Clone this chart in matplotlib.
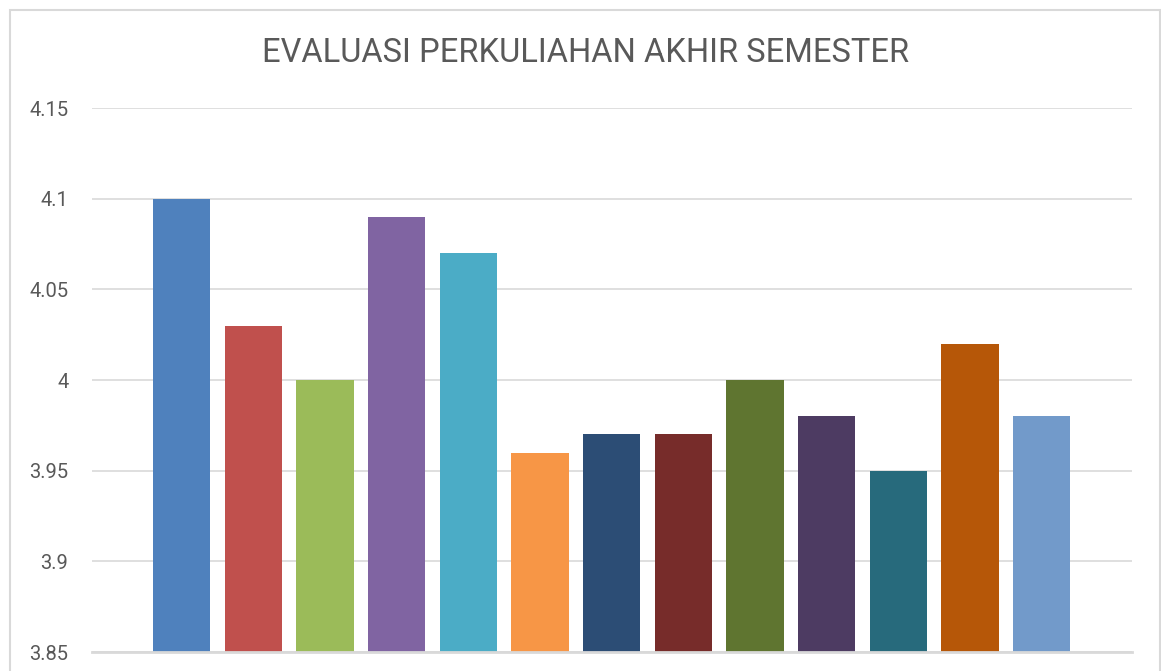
import matplotlib
matplotlib.use("Agg")
import matplotlib.pyplot as plt
from matplotlib.patches import Rectangle

title = "EVALUASI PERKULIAHAN AKHIR SEMESTER"
categories = [str(i) for i in range(1, 14)]
values = [4.10, 4.03, 4.00, 4.09, 4.07, 3.96, 3.97, 3.97, 4.00, 3.98, 3.95, 4.02, 3.98]
colors = ["#4F81BD", "#C0504D", "#9BBB59", "#8064A2", "#4BACC6", "#F79646",
          "#2C4D75", "#772C2A", "#5F7530", "#4D3B62", "#276A7C", "#B65708", "#729ACA"]
yticks = [3.85, 3.9, 3.95, 4.0, 4.05, 4.1, 4.15]
ytick_labels = ["3.85", "3.9", "3.95", "4", "4.05", "4.1", "4.15"]

FONT = "Roboto"

W, H = 1161, 671
fig = plt.figure(figsize=(W / 100, H / 100), dpi=100)
ax = fig.add_axes([92 / W, 19 / H, (1132 - 92) / W, (652 - 108) / H])

x = list(range(len(categories)))
ax.bar(x, [v - 3.85 for v in values], bottom=3.85, width=0.8, color=colors, zorder=3)

ax.set_ylim(3.85, 4.15)
ax.set_xlim(-1.249, 13.26)
ax.set_yticks(yticks)
ax.set_yticklabels(ytick_labels, fontsize=14.5, color="#595959", family=FONT)
ax.set_xticks([])
ax.tick_params(axis="y", length=0, pad=17)
ax.yaxis.grid(True, color="#D9D9D9", linewidth=1.2, zorder=0)
for s in ["top", "right", "left"]:
    ax.spines[s].set_visible(False)
ax.spines["bottom"].set_color("#D9D9D9")
ax.spines["bottom"].set_linewidth(2)
ax.spines["bottom"].set_zorder(4)

fig.text(586 / W, 1 - 53 / H, title, ha="center", va="center", fontsize=23.5,
         color="#595959", family=FONT)

border = Rectangle((9.5 / W, -0.1), (1160 - 9.5) / W, 1 - 9.5 / H + 0.1,
                   transform=fig.transFigure, fill=False, edgecolor="#D9D9D9",
                   linewidth=1.5, clip_on=False)
fig.patches.append(border)

fig.savefig("out.png", dpi=100)
